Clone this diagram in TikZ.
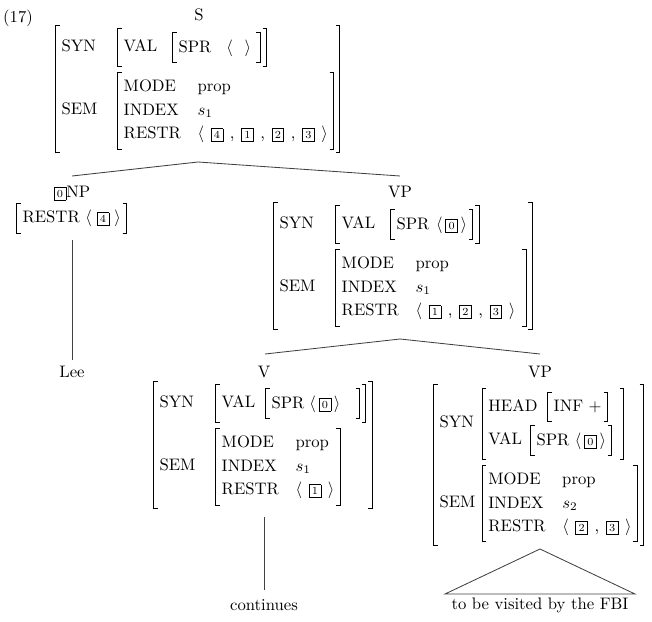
\documentclass[tikz,border=0pt]{standalone}
\usepackage{amsmath}
\newlength\avmpad \setlength\avmpad{2.25pt}
\newlength\avmgap \setlength\avmgap{3.2pt}
\newlength\avmrule \setlength\avmrule{0.55pt}
\newlength\avmserif \setlength\avmserif{2.6pt}
\newcommand{\lbrk}[2]{\vrule width\avmrule height#1 depth#2\kern-\avmrule
 \vrule width\avmserif height#1 depth\dimexpr\avmrule-#1\relax\kern-\avmserif
 \vrule width\avmserif height\dimexpr\avmrule-#2\relax depth#2\kern-\avmserif\kern\avmrule}
\newcommand{\rbrk}[2]{\kern-\dimexpr\avmserif-\avmrule\relax
 \vrule width\avmserif height#1 depth\dimexpr\avmrule-#1\relax\kern-\avmserif
 \vrule width\avmserif height\dimexpr\avmrule-#2\relax depth#2\kern-\avmrule
 \vrule width\avmrule height#1 depth#2}
\newcommand{\AVM}[2]{{\setbox0=\hbox{$\begin{array}{@{}#1@{}}#2\end{array}$}%
 \dimen0=\dimexpr\ht0+\avmpad\relax\dimen2=\dimexpr\dp0+\avmpad\relax
 \hbox{\lbrk{\dimen0}{\dimen2}\kern\avmgap\box0\kern\avmgap\rbrk{\dimen0}{\dimen2}}}}
\newcommand{\tg}[1]{{\setlength{\fboxsep}{1.5pt}\setlength{\fboxrule}{0.4pt}\fbox{\fontsize{6.5}{6.5}\selectfont #1}}}
\newcommand{\at}[1]{\mbox{#1}}
\newlength\lsp \setlength\lsp{4pt}
\newcommand{\cm}{\hspace{\lsp}\mbox{,}\hspace{\lsp}}
\newcommand{\lo}{\langle\hspace{\lsp}}
\newcommand{\lc}{\hspace{\lsp}\rangle}
\newcommand{\rowgap}{\\\noalign{\vskip3pt}}
\renewcommand{\arraystretch}{1.17}
\begin{document}
\begin{tikzpicture}[x=0.6pt,y=-0.6pt,
  lbl/.style={inner sep=0},
  avm/.style={anchor=west,inner sep=0},
  tree/.style={draw=black!75,line width=0.5pt}]
\useasboundingbox (0,0) rectangle (652,621);
\node[lbl] (ex) at (18,18) {(17)};
\node[lbl] (S) at (199,15) {S};
\node[avm] (Savm) at (55,89) {$\AVM{l@{\hspace{12pt}}l}{
 \at{SYN} & \AVM{l@{\hspace{9pt}}l}{\at{VAL} & \AVM{l@{\hspace{9pt}}l}{\at{SPR} & \langle\hspace{7pt}\rangle\hspace{2pt}}}\rowgap
 \at{SEM} & \AVM{l@{\hspace{10pt}}l}{\at{MODE} & \at{prop}\\ \at{INDEX} & s_1\\ \at{RESTR} & \lo\tg{4}\cm\tg{1}\cm\tg{2}\cm\tg{3}\lc}}$};
% NP
\node[lbl] (NP) at (72,193) {\tg{0}NP};
\node[avm] (NPavm) at (16,218) {$\AVM{l}{\at{RESTR}\ \langle\hspace{3pt}\tg{4}\hspace{3pt}\rangle}$};
% VP
\node[lbl] (VP) at (400,192) {VP};
\node[avm] (VPavm) at (273,266) {$\AVM{l@{\hspace{12pt}}l}{
 \at{SYN} & \AVM{l@{\hspace{9pt}}l}{\at{VAL} & \AVM{l@{\hspace{4pt}}l}{\at{SPR} & \langle\,\tg{0}\,\rangle}}\rowgap
 \at{SEM} & \AVM{l@{\hspace{10pt}}l}{\at{MODE} & \at{prop}\\ \at{INDEX} & s_1\\ \at{RESTR} & \lo\tg{1}\cm\tg{2}\cm\tg{3}\lc\hspace{3pt}}}$};
% Lee
\node[lbl] (Lee) at (72,372) {Lee};
% V
\node[lbl] (V) at (264,372) {V};
\node[avm] (Vavm) at (153,445) {$\AVM{l@{\hspace{12pt}}l}{
 \at{SYN} & \AVM{l@{\hspace{6pt}}l}{\at{VAL} & \AVM{l@{\hspace{3pt}}l}{\at{SPR} & \langle\,\tg{0}\,\rangle\hspace{8pt}}}\rowgap
 \at{SEM} & \AVM{l@{\hspace{10pt}}l}{\at{MODE} & \at{prop}\\ \at{INDEX} & s_1\\ \at{RESTR} & \lo\tg{1}\lc}}$};
% VP2
\node[lbl] (VPb) at (540,372) {VP};
\node[avm] (VPbavm) at (433,465) {$\AVM{l@{\hspace{4pt}}l}{
 \at{SYN} & \AVM{l}{\at{HEAD}\hspace{6pt}\AVM{l}{\at{INF +}}\hspace{6pt}\\\noalign{\vskip1.5pt} \at{VAL}\hspace{5pt}\AVM{l}{\at{SPR}\ \langle\,\tg{0}\,\rangle}}\rowgap
 \at{SEM} & \AVM{l@{\hspace{10pt}}l}{\at{MODE} & \at{prop}\\ \at{INDEX} & s_2\\ \at{RESTR} & \lo\tg{2}\cm\tg{3}\lc}}$};
% leaves
\node[lbl] (cont) at (264,605) {continues};
\node[lbl] (fbi) at (540,605) {to be visited by the FBI};
% tree lines
\coordinate (Sa) at (198,162);
\coordinate (NPt) at (72,176);
\coordinate (VPt) at (400,176);
\coordinate (VPa) at (400,339);
\coordinate (Vt) at (265,354);
\coordinate (VPbt) at (540,354);
\coordinate (NPb) at (72,240);
\coordinate (Leet) at (72,360);
\coordinate (Vb) at (264,517);
\coordinate (contt) at (264,590);
\coordinate (Ta) at (540,549);
\coordinate (Tl) at (445,594);
\coordinate (Tr) at (635,594);
\draw[tree] (NPt) -- (Sa) -- (VPt);
\draw[tree] (Vt) -- (VPa) -- (VPbt);
\draw[tree] (NPb) -- (Leet);
\draw[tree] (Vb) -- (contt);
\draw[tree] (Tl) -- (Ta) -- (Tr) -- cycle;
\end{tikzpicture}
\end{document}
